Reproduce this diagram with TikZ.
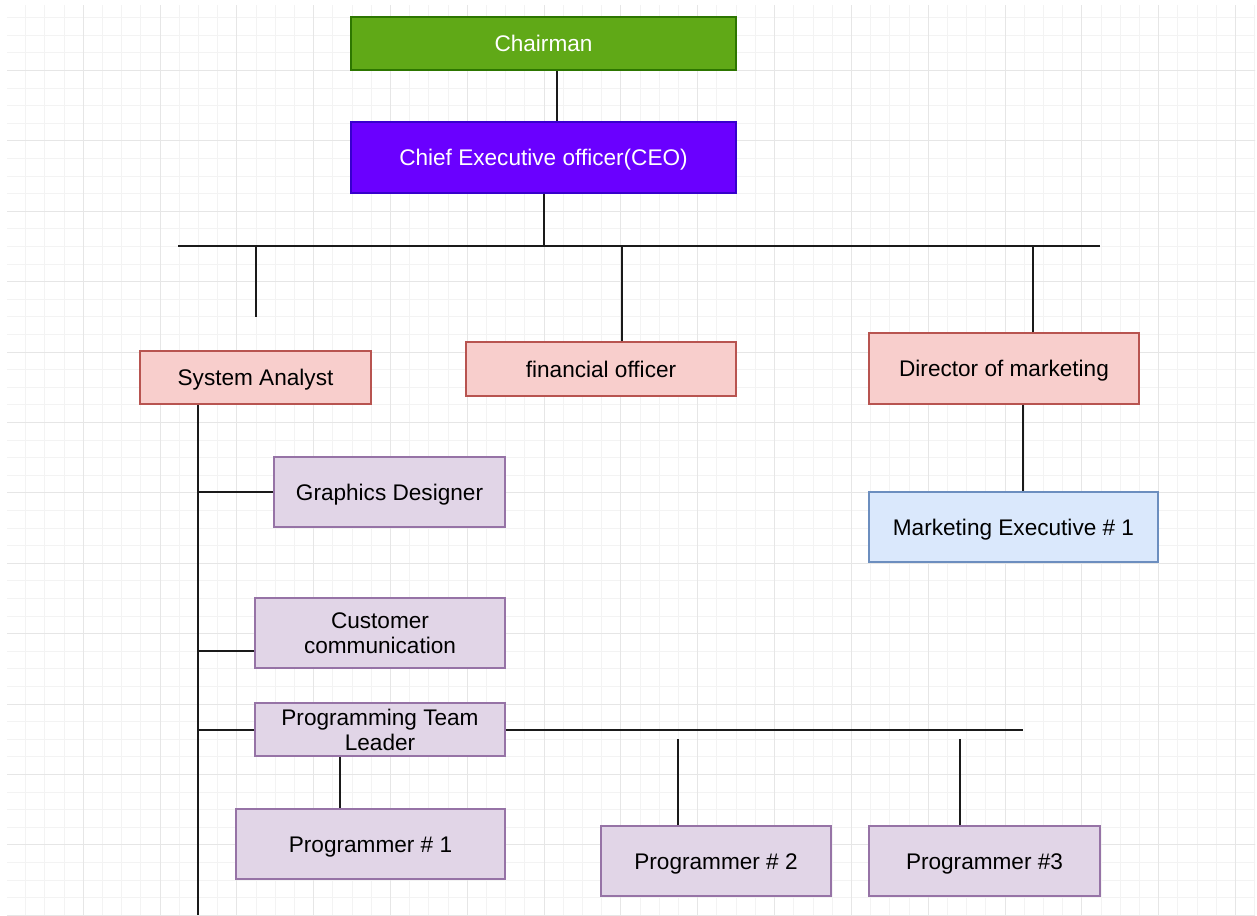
\documentclass[tikz,border=0pt]{standalone}
\usepackage{fontspec}
\setmainfont{Liberation Sans}
\definecolor{gridminor}{HTML}{F3F3F3}
\definecolor{gridmajor}{HTML}{E6E6E6}
\definecolor{chairfill}{HTML}{60A917}
\definecolor{chairdraw}{HTML}{2D7600}
\definecolor{ceofill}{HTML}{6A00FF}
\definecolor{ceodraw}{HTML}{3700CC}
\definecolor{redfill}{HTML}{F8CECC}
\definecolor{reddraw}{HTML}{B85450}
\definecolor{bluefill}{HTML}{DAE8FC}
\definecolor{bluedraw}{HTML}{6C8EBF}
\definecolor{purfill}{HTML}{E1D5E7}
\definecolor{purdraw}{HTML}{9673A6}
\definecolor{linec}{HTML}{1A1A1A}
\tikzset{
  box/.style={draw, line width=1.3pt, inner sep=0pt, align=center,
    font=\fontsize{22.6}{25}\selectfont, text=black,
    text height=16.5pt, text depth=0pt},
  twoline/.style={text height=41.5pt, text depth=0pt},
  chairbox/.style={box, fill=chairfill, draw=chairdraw, text=white},
  ceobox/.style={box, fill=ceofill, draw=ceodraw, text=white},
  redbox/.style={box, fill=redfill, draw=reddraw},
  bluebox/.style={box, fill=bluefill, draw=bluedraw},
  purbox/.style={box, fill=purfill, draw=purdraw},
  conn/.style={draw=linec, line width=2pt},
  minorgrid/.style={draw=gridminor, line width=1pt},
  majorgrid/.style={draw=gridmajor, line width=1pt},
}
\begin{document}
\begin{tikzpicture}[x=1pt,y=-1pt]
\useasboundingbox (0,0) rectangle (1257,915);
\fill[white] (0,0) rectangle (1257,915);
% grid
\begin{scope}
\clip (7,6) rectangle (1255,915);
\foreach \i in {0,...,66} {\pgfmathsetmacro\gx{round(5.9+19.205*\i)+0.5}
  \draw[minorgrid] (\gx,0) -- (\gx,915);}
\foreach \i in {0,...,53} {\pgfmathsetmacro\gy{round(-0.4+17.6*\i)+0.5}
  \draw[minorgrid] (0,\gy) -- (1257,\gy);}
\foreach \i in {0,...,16} {\pgfmathsetmacro\gx{round(5.9+76.82*\i)+0.5}
  \draw[majorgrid] (\gx,0) -- (\gx,915);}
\foreach \i in {0,...,13} {\pgfmathsetmacro\gy{round(-0.4+70.4*\i)+0.5}
  \draw[majorgrid] (0,\gy) -- (1257,\gy);}
\end{scope}
% nodes
\node[chairbox, minimum width=385, minimum height=53] (chair) at (543.5,43.5) {Chairman};
\node[ceobox, minimum width=385, minimum height=71] (ceo) at (543.5,157.5) {Chief Executive officer(CEO)};
\node[redbox, minimum width=231, minimum height=53] (sa) at (255.5,377.5) {System Analyst};
\node[redbox, minimum width=270, minimum height=54] (fin) at (601,369) {financial officer};
\node[redbox, minimum width=270, minimum height=71] (dir) at (1004,368.5) {Director of marketing};
\node[bluebox, minimum width=289, minimum height=70] (mexec) at (1013.5,527) {Marketing Executive \# 1};
\node[purbox, minimum width=231, minimum height=70] (gd) at (389.5,492) {Graphics Designer};
\node[purbox, twoline, minimum width=250, minimum height=70] (cc) at (380,633) {Customer\\communication};
\node[purbox, twoline, minimum width=250, minimum height=53] (ptl) at (380,729.5) {Programming Team\\Leader};
\node[purbox, minimum width=269, minimum height=70] (p1) at (370.5,844) {Programmer \# 1};
\node[purbox, minimum width=230, minimum height=70] (p2) at (716,861) {Programmer \# 2};
\node[purbox, minimum width=231, minimum height=70] (p3) at (984.5,861) {Programmer \#3};
% free ends
\coordinate (busL) at (178,246);
\coordinate (busR) at (1100,246);
\coordinate (saEnd) at (256,317);
\coordinate (saBot) at (198,915);
\coordinate (ptlEnd) at (1023,730);
\coordinate (p2Top) at (678,739);
\coordinate (p3Top) at (960,739);
% connectors
\draw[conn] ([xshift=13.5pt]chair.south) -- ([xshift=13.5pt]ceo.north);
\draw[conn] ([xshift=0.5pt]ceo.south) -- ([xshift=0.5pt]ceo.south |- busL);
\draw[conn] (busL) -- (busR);
\draw[conn] (saEnd |- busL) -- (saEnd);
\draw[conn] ([xshift=21pt]fin.north) -- ([xshift=21pt]fin.north |- busL);
\draw[conn] ([xshift=29pt]dir.north) -- ([xshift=29pt]dir.north |- busL);
\draw[conn] ([xshift=19pt]dir.south) -- ([xshift=19pt]dir.south |- mexec.north);
\draw[conn] (saBot |- sa.south) -- (saBot);
\draw[conn] (gd.west) -- (gd.west -| saBot);
\draw[conn] ([yshift=-18pt]cc.west) -- ([yshift=-18pt]cc.west -| saBot);
\draw[conn] ([yshift=-0.5pt]ptl.west) -- ([yshift=-0.5pt]ptl.west -| saBot);
\draw[conn] ([yshift=-0.5pt]ptl.east) -- (ptlEnd);
\draw[conn] ([xshift=-40pt]ptl.south) -- ([xshift=-40pt]ptl.south |- p1.north);
\draw[conn] (p2Top |- p2.north) -- (p2Top);
\draw[conn] (p3Top |- p3.north) -- (p3Top);
\end{tikzpicture}
\end{document}
